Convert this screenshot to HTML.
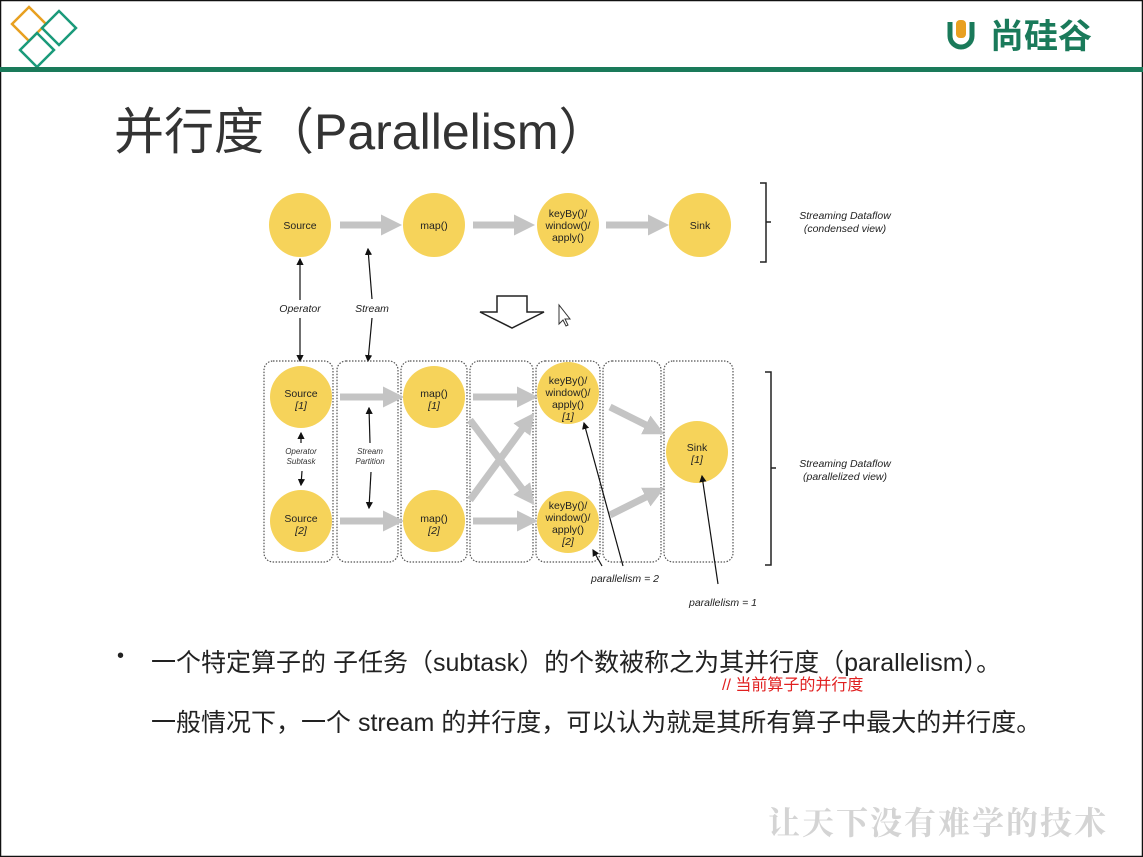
<!DOCTYPE html>
<html><head><meta charset="utf-8"><style>
html,body{margin:0;padding:0}
body{width:1143px;height:857px;overflow:hidden;background:#fff;position:relative;font-family:"Liberation Sans","Noto Sans CJK SC",sans-serif}
.t{position:absolute;white-space:nowrap}
</style></head><body>
<svg width="1143" height="857" style="position:absolute;left:0;top:0" font-family="Liberation Sans, sans-serif">
<rect x="0.5" y="0.5" width="1142" height="856" fill="none" stroke="#111" stroke-width="1.5"/>
<g fill="none" stroke-width="2.5">
<rect x="17" y="12" width="24" height="24" transform="rotate(45 29 24)" stroke="#e8a020"/>
<rect x="47" y="16" width="24" height="24" transform="rotate(45 59 28)" stroke="#1a9a7a"/>
<rect x="25" y="38" width="24" height="24" transform="rotate(45 37 50)" stroke="#1a9a7a"/>
</g>
<rect x="0" y="67" width="1143" height="5" fill="#1a7a5a"/>
<path d="M950 22 v14 a11 11 0 0 0 22 0 v-14" fill="none" stroke="#1a7a5a" stroke-width="5"/>
<rect x="956" y="20" width="10" height="18" rx="4" fill="#e8a020"/>
<text x="990" y="48" font-size="34" font-weight="bold" fill="#1a7a5a" font-family="Noto Sans CJK SC, sans-serif">尚硅谷</text>

<defs>
<marker id="a" markerWidth="6" markerHeight="6" refX="5" refY="3" orient="auto"><path d="M0,0 L6,3 L0,6 z" fill="#111"/></marker>
<marker id="g" markerWidth="3" markerHeight="3" refX="1" refY="1.5" orient="auto"><path d="M0,0 L3,1.5 L0,3 z" fill="#c4c4c4"/></marker>
</defs>
<g fill="#f6d35a">
<ellipse cx="300" cy="225" rx="31" ry="32"/><ellipse cx="434" cy="225" rx="31" ry="32"/><ellipse cx="568" cy="225" rx="31" ry="32"/><ellipse cx="700" cy="225" rx="31" ry="32"/>
</g>
<g stroke="#c4c4c4" stroke-width="7" marker-end="url(#g)">
<line x1="340" y1="225" x2="388" y2="225"/><line x1="473" y1="225" x2="521" y2="225"/><line x1="606" y1="225" x2="655" y2="225"/>
</g>
<g font-size="10.5" fill="#222" text-anchor="middle">
<text x="300" y="229">Source</text><text x="434" y="229">map()</text>
<text x="568" y="217">keyBy()/</text><text x="568" y="229">window()/</text><text x="568" y="241">apply()</text>
<text x="700" y="229">Sink</text>
</g>
<path d="M760 183 h6 v79 h-6 M766 222 h5" fill="none" stroke="#222" stroke-width="1.5"/>
<g stroke="#111" stroke-width="1.2" marker-end="url(#a)">
<line x1="300" y1="300" x2="300" y2="259"/><line x1="300" y1="318" x2="300" y2="361"/>
<line x1="372" y1="299" x2="368" y2="249"/><line x1="372" y1="318" x2="368" y2="361"/>
</g>
<path d="M497 296 h30 v16 h17 l-32 16 l-32 -16 h17 z" fill="#fff" stroke="#222" stroke-width="1.5"/>
<path d="M559 305 v19 l4 -4 l3 6 l2 -1 l-3 -6 h5 z" fill="#fff" stroke="#333" stroke-width="1"/>
<g fill="none" stroke="#555" stroke-width="1.2" stroke-dasharray="1.5 1.5">
<rect x="264" y="361" width="69" height="201" rx="9"/><rect x="337" y="361" width="61" height="201" rx="9"/>
<rect x="401" y="361" width="66" height="201" rx="9"/><rect x="470" y="361" width="63" height="201" rx="9"/>
<rect x="536" y="361" width="64" height="201" rx="9"/><rect x="603" y="361" width="58" height="201" rx="9"/>
<rect x="664" y="361" width="69" height="201" rx="9"/>
</g>
<g stroke="#c4c4c4" stroke-width="7" marker-end="url(#g)">
<line x1="340" y1="397" x2="390" y2="397"/><line x1="340" y1="521" x2="390" y2="521"/>
<line x1="473" y1="397" x2="524" y2="397"/><line x1="473" y1="521" x2="524" y2="521"/>
<line x1="470" y1="420" x2="526" y2="494"/><line x1="470" y1="500" x2="526" y2="424"/>
<line x1="610" y1="407" x2="652" y2="428"/><line x1="610" y1="515" x2="652" y2="494"/>
</g>
<g fill="#f6d35a">
<circle cx="301" cy="397" r="31"/><circle cx="301" cy="521" r="31"/>
<circle cx="434" cy="397" r="31"/><circle cx="434" cy="521" r="31"/>
<circle cx="568" cy="393" r="31"/><circle cx="568" cy="522" r="31"/>
<circle cx="697" cy="452" r="31"/>
</g>
<g font-size="10.5" fill="#222" text-anchor="middle">
<text x="301" y="397">Source</text><text x="301" y="409" font-style="italic">[1]</text>
<text x="301" y="522">Source</text><text x="301" y="534" font-style="italic">[2]</text>
<text x="434" y="397">map()</text><text x="434" y="409" font-style="italic">[1]</text>
<text x="434" y="522">map()</text><text x="434" y="534" font-style="italic">[2]</text>
<text x="568" y="384">keyBy()/</text><text x="568" y="396">window()/</text><text x="568" y="408">apply()</text><text x="568" y="420" font-style="italic">[1]</text>
<text x="568" y="509">keyBy()/</text><text x="568" y="521">window()/</text><text x="568" y="533">apply()</text><text x="568" y="545" font-style="italic">[2]</text>
<text x="697" y="451">Sink</text><text x="697" y="463" font-style="italic">[1]</text>
</g>
<g stroke="#111" stroke-width="1.2" marker-end="url(#a)">
<line x1="301" y1="443" x2="301" y2="433"/><line x1="302" y1="471" x2="301" y2="485"/>
<line x1="370" y1="443" x2="369" y2="408"/><line x1="371" y1="472" x2="369" y2="508"/>
<line x1="623" y1="566" x2="584" y2="423"/><line x1="602" y1="566" x2="593" y2="550"/>
<line x1="718" y1="584" x2="702" y2="476"/>
</g>
<rect x="582" y="571" width="86" height="14" fill="#fff"/>
<rect x="680" y="595" width="86" height="14" fill="#fff"/>
<rect x="352" y="445" width="36" height="22" fill="#fff"/>
<g font-size="8" font-style="italic" fill="#333" text-anchor="middle">
<text x="301" y="454">Operator</text><text x="301" y="464">Subtask</text>
<text x="370" y="454">Stream</text><text x="370" y="464">Partition</text>
</g>
<g font-size="10.5" font-style="italic" fill="#222" text-anchor="middle">
<text x="845" y="219">Streaming Dataflow</text><text x="845" y="232">(condensed view)</text>
<text x="845" y="467">Streaming Dataflow</text><text x="845" y="480">(parallelized view)</text>
<text x="300" y="312">Operator</text><text x="372" y="312">Stream</text>
<text x="625" y="582">parallelism = 2</text><text x="723" y="606">parallelism = 1</text>
</g>
<path d="M765 372 h6 v193 h-6 M771 468 h5" fill="none" stroke="#222" stroke-width="1.5"/>
</svg>
<div class="t" style="left:114px;top:92px;font-size:50px;color:#333">并行度（Parallelism）</div>
<div class="t" style="left:117px;top:645px;font-size:20px;color:#222">•</div>
<div class="t" style="left:151px;top:643px;font-size:25px;color:#222">一个特定算子的 子任务（subtask）的个数被称之为其并行度（parallelism）。</div>
<div class="t" style="left:722px;top:671px;font-size:16px;color:#e02020">// 当前算子的并行度</div>
<div class="t" style="left:151px;top:703px;font-size:25px;color:#222">一般情况下，一个 stream 的并行度，可以认为就是其所有算子中最大的并行度。</div>
<div class="t" style="left:768px;top:798px;font-size:32px;color:#d4d4d4;font-weight:bold;letter-spacing:2px;font-family:'Noto Serif CJK SC',serif">让天下没有难学的技术</div>
</body></html>
